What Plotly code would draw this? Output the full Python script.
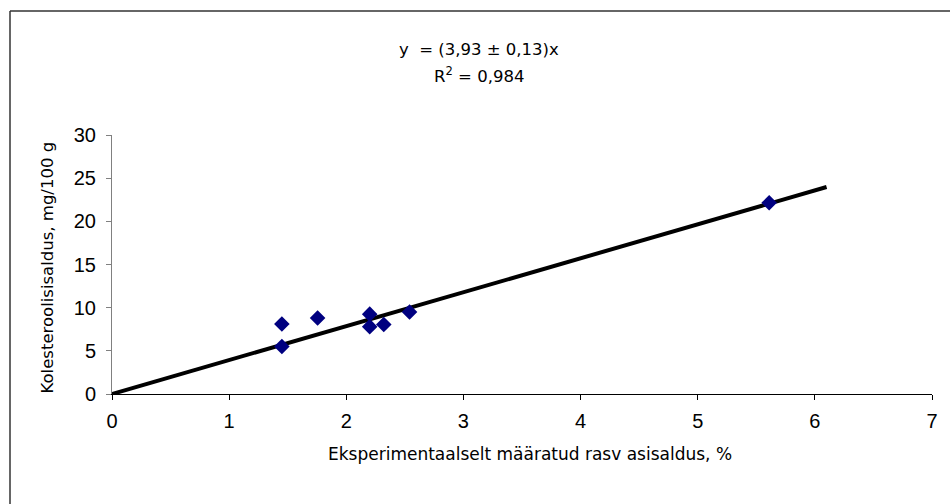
import plotly.graph_objects as go

fat_pct = [1.45, 1.45, 1.755, 2.2, 2.2, 2.32, 2.54, 5.61]
cholesterol = [8.1, 5.5, 8.8, 9.25, 7.8, 8.05, 9.5, 22.15]
slope = 3.93
fit_x = [0, 6.1]
fit_y = [slope * v for v in fit_x]

x_ticks = [0, 1, 2, 3, 4, 5, 6, 7]
y_ticks = [0, 5, 10, 15, 20, 25, 30]

FONT = "Liberation Sans, Arial, sans-serif"
TFONT = "DejaVu Sans, sans-serif"

fig = go.Figure()
fig.add_trace(go.Scatter(x=fit_x, y=fit_y, mode="lines",
                         line=dict(color="black", width=4),
                         showlegend=False, hoverinfo="skip"))
fig.add_trace(go.Scatter(x=fat_pct, y=cholesterol, mode="markers",
                         marker=dict(symbol="diamond", size=12, color="#000080"),
                         showlegend=False))

L, R, T, B = 112, 18, 135, 110
W, H = 950, 504
pw, ph = W - L - R, H - T - B

def px(xp):
    return (xp - L) / pw

def py(yp):
    return (H - B - yp) / ph

fig.update_layout(
    width=W, height=H,
    margin=dict(l=L, r=R, t=T, b=B),
    paper_bgcolor="white", plot_bgcolor="white",
    font=dict(family=FONT, color="black"),
    xaxis=dict(range=[0, 7], tickvals=x_ticks, ticktext=[str(v) for v in x_ticks],
               showgrid=False, zeroline=False, showline=True, linecolor="black",
               linewidth=1, ticks="outside", ticklen=5, tickcolor="black",
               ticklabelstandoff=4,
               tickfont=dict(size=20, family=FONT), fixedrange=True),
    yaxis=dict(range=[0, 30], tickvals=y_ticks, ticktext=[str(v) for v in y_ticks],
               showgrid=False, zeroline=False, showline=True, linecolor="#808080",
               linewidth=1, ticks="outside", ticklen=5, tickcolor="#808080",
               ticklabelstandoff=6,
               tickfont=dict(size=20, family=FONT), fixedrange=True),
    annotations=[
        dict(text="y  = (3,93 ± 0,13)x", x=px(479), y=py(38), xref="paper", yref="paper",
             showarrow=False, font=dict(size=16.5, family=TFONT)),
        dict(text="R<sup>2</sup> = 0,984", x=px(479), y=py(62), xref="paper", yref="paper",
             showarrow=False, font=dict(size=16.5, family=TFONT)),
        dict(text="Eksperimentaalselt määratud rasv asisaldus, %", x=px(530), y=py(466),
             xref="paper", yref="paper", showarrow=False, font=dict(size=17, family=TFONT)),
        dict(text="Kolesteroolisisaldus, mg/100 g", x=px(35), y=py(268), textangle=-90,
             xref="paper", yref="paper", showarrow=False, font=dict(size=16.5, family=TFONT)),
    ],
    shapes=[
        dict(type="line", xref="paper", yref="paper", x0=px(10), x1=px(960),
             y0=py(11), y1=py(11), line=dict(color="#333333", width=1.5)),
        dict(type="line", xref="paper", yref="paper", x0=px(10), x1=px(10),
             y0=py(11), y1=py(510), line=dict(color="#333333", width=1.5)),
    ],
)

fig.write_html("out.html", config={"displayModeBar": False},
               post_script="document.body.style.margin='0';")
